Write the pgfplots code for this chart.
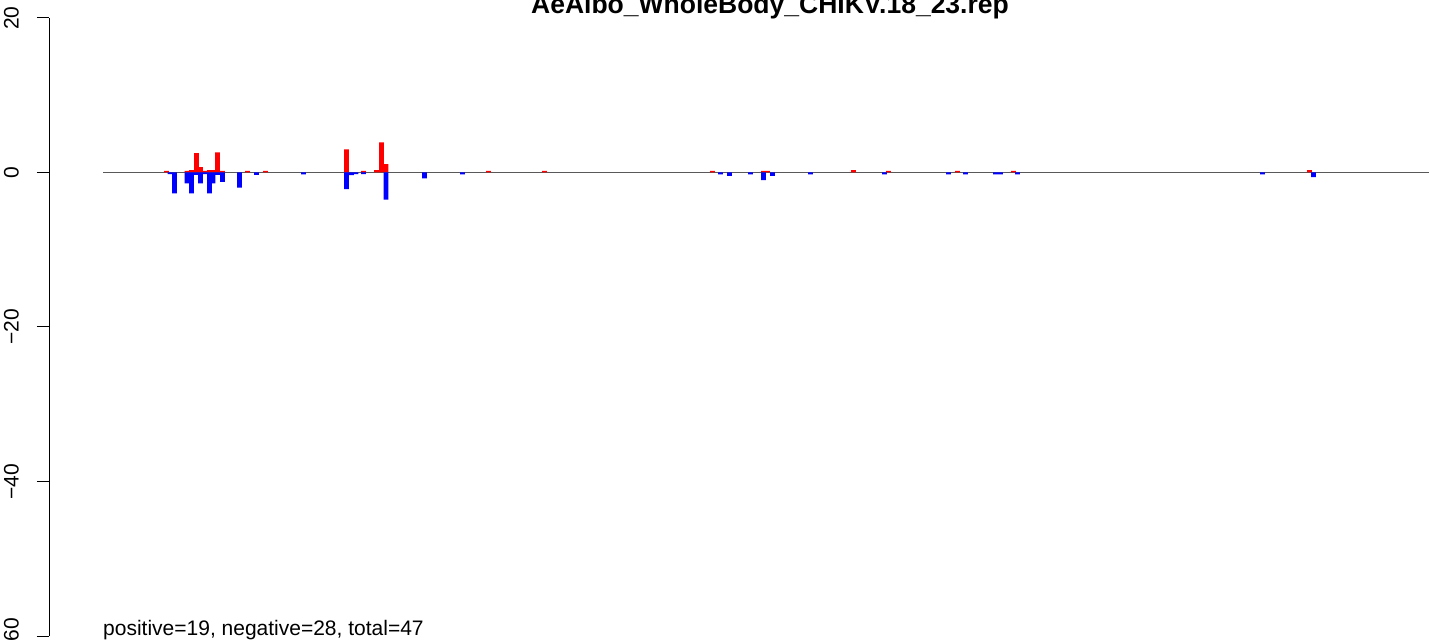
\documentclass[border=0pt]{standalone}
\usepackage{pgfplots}
\pgfplotsset{compat=1.18}
\usepackage{pgfplotstable}
\usepackage{fontspec}
\setmainfont{Liberation Sans}
\definecolor{rred}{RGB}{255,0,0}
\definecolor{rblue}{RGB}{0,0,255}
\pgfplotstableread{
x y
166.5 0.2
187 0.2
191.5 0.3
196.5 2.5
200.5 0.7
205 0.2
209.5 0.3
213 0.3
217.5 2.6
222.5 0.2
247.5 0.2
265.5 0.2
346.5 3.0
363.5 0.2
376.5 0.3
381.5 3.9
386 1.1
488.5 0.2
544.5 0.2
712.5 0.2
763.5 0.2
767.5 0.2
853.5 0.3
888.5 0.2
957.5 0.2
1013.5 0.2
1309.5 0.3
}\postab
\pgfplotstableread{
x y
170 -0.2
174.5 -2.7
187 -1.4
191.5 -2.7
196.5 -0.3
200.5 -1.4
205 -0.2
209.5 -2.7
213 -1.4
217.5 -0.3
222.5 -1.2
239.5 -1.95
256.5 -0.3
303.5 -0.25
346.5 -2.15
351.5 -0.35
356 -0.2
363.5 -0.2
386 -3.5
424.5 -0.75
462.5 -0.25
720.5 -0.25
729.5 -0.45
750.5 -0.25
763.5 -1.0
772.5 -0.45
810.5 -0.25
884.5 -0.25
948.5 -0.25
965.5 -0.25
995.5 -0.25
1000.5 -0.25
1017.5 -0.25
1262.5 -0.25
1313.5 -0.6
}\negtab
\begin{document}
\begin{tikzpicture}
\useasboundingbox (0,0) rectangle (1429bp,640bp);
\begin{axis}[
  at={(49bp,4bp)}, anchor=south west, scale only axis,
  width=1380bp, height=618bp,
  xmin=49, xmax=1429, ymin=-60, ymax=20,
  axis x line=none, axis y line*=left,
  ytick={-60,-40,-20,0,20},
  yticklabels={−60,−40,−20,0,20},
  tick align=outside, major tick length=12bp,
  y axis line style={line width=1bp, black},
  ytick style={line width=1bp, black},
  yticklabel shift=18bp,
  yticklabel style={rotate=90, anchor=south, inner sep=0pt,
    font=\fontsize{21bp}{25bp}\selectfont},
  clip=false,
]
\addplot[black!65, line width=1bp] coordinates {(103,0) (1429,0)};
\addplot[ybar, bar width=4.6, bar shift=0pt, fill=rred, draw=none] table {\postab};
\addplot[ybar, bar width=4.6, bar shift=0pt, fill=rblue, draw=none] table {\negtab};
\end{axis}
\node[anchor=base, inner sep=0pt, font=\fontsize{26.5bp}{31bp}\selectfont\bfseries] at (770bp,626bp) {AeAlbo\_WholeBody\_CHIKV.18\_23.rep};
\node[anchor=base west, inner sep=0pt, font=\fontsize{21bp}{25bp}\selectfont] at (103bp,5bp) {positive=19, negative=28, total=47};
\end{tikzpicture}
\end{document}
